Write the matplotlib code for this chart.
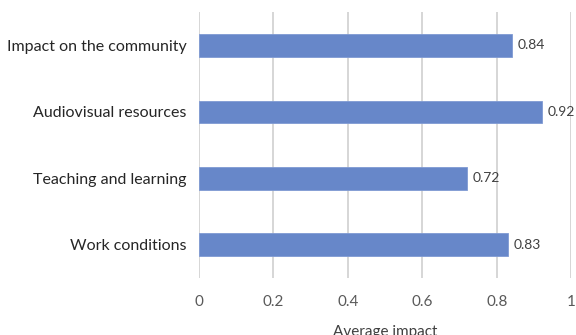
import matplotlib
matplotlib.use("Agg")
import matplotlib.pyplot as plt

categories = ["Work conditions", "Teaching and learning", "Audiovisual resources", "Impact on the community"]
values = [0.83, 0.72, 0.92, 0.84]
xticks = [0, 0.2, 0.4, 0.6, 0.8, 1]
xtick_labels = ["0", "0.2", "0.4", "0.6", "0.8", "1"]

plt.rcParams['font.family'] = ['Lato', 'DejaVu Sans']

fig = plt.figure(figsize=(5.76, 3.35), dpi=100)
ax = fig.add_axes([0.3455, 0.17, 0.6465, 0.794])

bars = ax.barh(range(len(categories)), values, height=0.34, color="#6787C9", zorder=3,
               edgecolor="#7F9AD3", linewidth=0.6)
for i, v in enumerate(values):
    ax.annotate(f"{v:.2f}", (v, i), xytext=(4, 0), textcoords="offset points",
                va="center", ha="left", fontsize=10, color="#404040", annotation_clip=False)

ax.set_xlim(0, 1)
ax.set_ylim(-0.5, len(categories) - 0.5)
ax.set_xticks(xticks)
ax.set_xticklabels(xtick_labels)
ax.set_yticks(range(len(categories)))
ax.set_yticklabels(categories)
ax.tick_params(axis='x', length=0, pad=12, labelsize=11, labelcolor="#595959")
ax.tick_params(axis='y', length=0, pad=9, labelsize=11.5, labelcolor="#262626")
ax.grid(axis='x', color="#D0D0D0", linewidth=1.2, zorder=0)
for s in ax.spines.values():
    s.set_visible(False)
ax.set_xlabel("Average impact", fontsize=11, color="#404040", labelpad=12)

fig.savefig("out.png", dpi=100)
